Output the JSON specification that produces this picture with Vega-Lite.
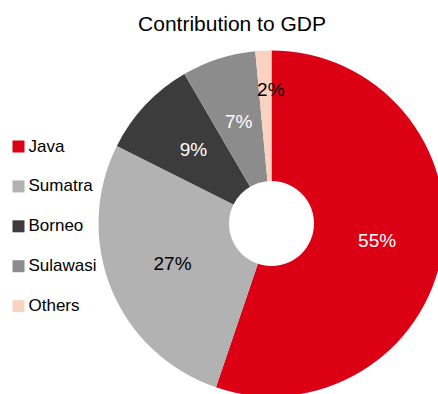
{
  "$schema": "https://vega.github.io/schema/vega-lite/v6.json",
  "autosize": {"type": "none"},
  "width": 333,
  "height": 341,
  "padding": {"left": 105, "top": 53, "right": 0, "bottom": 0},
  "background": "white",
  "title": {
    "text": "Contribution to GDP",
    "font": "Liberation Sans",
    "fontSize": 21,
    "fontWeight": "normal",
    "color": "black",
    "anchor": "middle",
    "frame": "group",
    "dx": -39.5,
    "baseline": "alphabetic",
    "offset": -1
  },
  "data": {
    "values": [
      {"region": "Java", "share": 0.552, "rank": 1},
      {"region": "Sumatra", "share": 0.272, "rank": 2},
      {"region": "Borneo", "share": 0.092, "rank": 3},
      {"region": "Sulawasi", "share": 0.069, "rank": 4},
      {"region": "Others", "share": 0.015, "rank": 5}
    ]
  },
  "encoding": {
    "theta": {"field": "share", "type": "quantitative", "stack": true},
    "order": {"field": "rank", "type": "quantitative"}
  },
  "layer": [
    {
      "mark": {"type": "arc", "outerRadius": 173, "innerRadius": 42.5},
      "encoding": {
        "color": {
          "field": "region",
          "type": "nominal",
          "sort": ["Java", "Sumatra", "Borneo", "Sulawasi", "Others"],
          "scale": {
            "domain": ["Java", "Sumatra", "Borneo", "Sulawasi", "Others"],
            "range": ["#DC0015", "#B2B2B2", "#3C3C3C", "#8C8C8C", "#FAD2C2"]
          },
          "legend": {
            "title": null,
            "orient": "none",
            "legendX": -95,
            "legendY": 85,
            "padding": 0,
            "symbolType": "square",
            "symbolSize": 144,
            "symbolStrokeWidth": 0,
            "labelFont": "Liberation Sans",
            "labelFontSize": 17,
            "labelColor": "black",
            "labelOffset": 1.5,
            "rowPadding": 21.9
          }
        }
      }
    },
    {
      "transform": [{"filter": "datum.region !== 'Others'"}],
      "mark": {"type": "text", "radius": 107, "font": "Liberation Sans", "fontSize": 19, "baseline": "middle", "align": "center"},
      "encoding": {
        "text": {"field": "share", "type": "quantitative", "format": ".0%"},
        "color": {
          "condition": {"test": "datum.region === 'Sumatra'", "value": "black"},
          "value": "white"
        }
      }
    },
    {
      "transform": [{"filter": "datum.region === 'Others'"}],
      "mark": {"type": "text", "radius": 134, "dx": -7, "font": "Liberation Sans", "fontSize": 19, "baseline": "middle", "align": "center", "color": "black"},
      "encoding": {
        "text": {"field": "share", "type": "quantitative", "format": ".0%"}
      }
    }
  ]
}
